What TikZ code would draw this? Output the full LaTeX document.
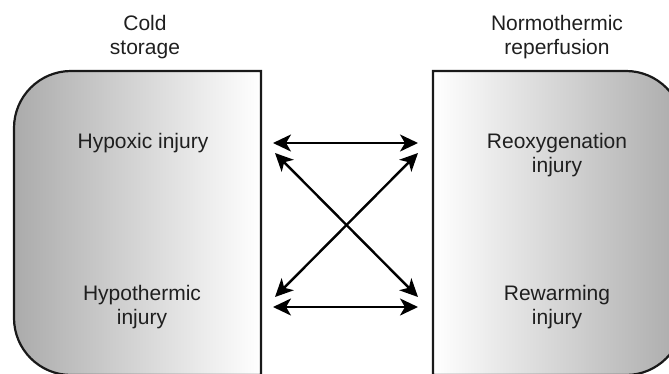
\documentclass[tikz,border=0pt]{standalone}
\usepackage{fontspec}
\setmainfont{Liberation Sans}
\usetikzlibrary{arrows.meta}
\begin{document}
\begin{tikzpicture}[x=1pt,y=-1pt,
  lbl/.style={align=center,text=black!88,font=\fontsize{21}{23.5}\selectfont,inner sep=0pt},
  boxline/.style={draw=black!90,line width=2.2pt},
  link/.style={line width=2.4pt,draw=black,{Stealth[length=18pt,width=17pt,inset=5pt]}-{Stealth[length=18pt,width=17pt,inset=5pt]}}]
\useasboundingbox (0,0) rectangle (669,373);
\clip (0,0) rectangle (669,373);
% left box
\draw[boxline,left color=black!33,right color=white]
  (261,71) -- (71,71) arc[start angle=270,end angle=180,radius=57]
  -- (14,318) arc[start angle=180,end angle=90,radius=57]
  -- (261,375) -- cycle;
% right box
\draw[boxline,left color=white,right color=black!33]
  (433,71) -- (626,71) arc[start angle=-90,end angle=0,radius=57]
  -- (683,318) arc[start angle=0,end angle=90,radius=57]
  -- (433,375) -- cycle;
% titles
\node[lbl] (cold) at (145,37) {Cold\\storage};
\node[lbl] (normo) at (557,37) {Normothermic\\reperfusion};
% box texts
\node[lbl] (hypox) at (143,143) {Hypoxic injury};
\node[lbl] (reox) at (557,155) {Reoxygenation\\injury};
\node[lbl] (hypoth) at (142,307) {Hypothermic\\injury};
\node[lbl] (rewarm) at (557,307) {Rewarming\\injury};
% arrow end points
\coordinate (a1) at (273,143);
\coordinate (b1) at (418,143);
\coordinate (a2) at (275,153);
\coordinate (b2) at (418,297);
\coordinate (a3) at (275,297);
\coordinate (b3) at (418,153);
\coordinate (a4) at (273,307);
\coordinate (b4) at (418,307);
\draw[link] (a1) -- (b1);
\draw[link] (a2) -- (b2);
\draw[link] (a3) -- (b3);
\draw[link] (a4) -- (b4);
\end{tikzpicture}
\end{document}
